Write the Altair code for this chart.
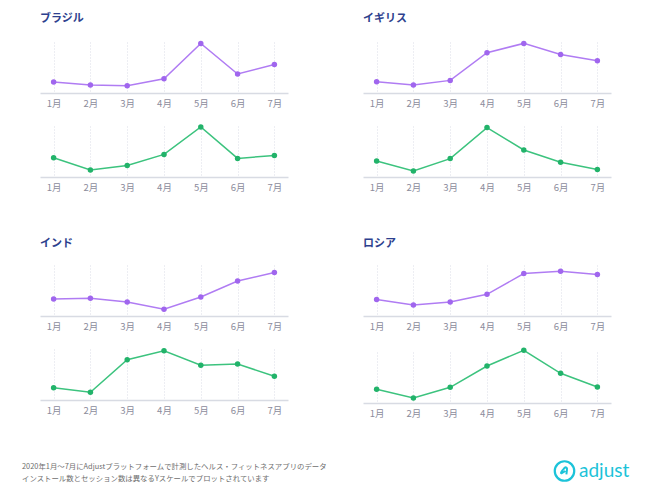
import altair as alt
import pandas as pd

months = ["1月", "2月", "3月", "4月", "5月", "6月", "7月"]
countries = ["ブラジル", "イギリス", "インド", "ロシア"]

# installs (purple) - relative scale
installs_brazil = [11, 8, 7.3, 14.3, 49.6, 19, 28.6]
installs_uk = [11.3, 8, 12.6, 40.3, 49.6, 38.6, 32.3]
installs_india = [17, 17.7, 14, 6.7, 19, 35, 43.4]
installs_russia = [16.4, 11, 14, 21.7, 42.4, 44.7, 41.4]

# sessions (green) - relative scale
sessions_brazil = [19.3, 7, 11.6, 22.6, 50, 18.6, 21.6]
sessions_uk = [16, 6, 18.4, 49.4, 27, 14.7, 7.4]
sessions_india = [12.3, 7.7, 40.3, 49.3, 34.7, 36, 23.7]
sessions_russia = [13.7, 5, 15.7, 37, 52.7, 29.7, 16]

footer_lines = [
    "2020年1月〜7月にAdjustプラットフォームで計測したヘルス・フィットネスアプリのデータ",
    "インストール数とセッション数は異なるYスケールでプロットされています",
]
logo_text = "adjust"

FONT = "Noto Sans CJK JP"
PURPLE_LINE = "#B07CF3"
PURPLE_PT = "#A066EE"
GREEN_LINE = "#3CC37E"
GREEN_PT = "#22B36A"
TITLE_COLOR = "#2D3F8E"
LOGO_COLOR = "#1CC3D9"

W, H = 248, 51


def panel(vals, line_color, pt_color, title=None):
    df = pd.DataFrame({"month": months, "value": vals})
    x = alt.X(
        "month:O",
        sort=months,
        scale=alt.Scale(type="point", padding=0.37),
        axis=alt.Axis(
            title=None,
            labelAngle=0,
            labelFont=FONT,
            labelFontSize=9.5,
            labelColor="#8C8C9C",
            labelPadding=5,
            ticks=False,
            domainColor="#D8DBE3",
            domainWidth=1.5,
            grid=True,
            gridColor="#DADDE6",
            gridDash=[1, 2],
            gridWidth=1,
        ),
    )
    y = alt.Y("value:Q", scale=alt.Scale(domain=[0, 51]), axis=None)
    base = alt.Chart(df)
    line = base.mark_line(color=line_color, strokeWidth=1.5).encode(x=x, y=y)
    pts = base.mark_circle(color=pt_color, size=30, opacity=1).encode(x=x, y=y)
    ch = alt.layer(line, pts).properties(width=W, height=H)
    if title:
        ch = ch.properties(
            title=alt.Title(
                title,
                anchor="start",
                font=FONT,
                fontSize=11,
                fontWeight="bold",
                color=TITLE_COLOR,
                offset=16,
            )
        )
    return ch


def country(name, inst, sess):
    return alt.vconcat(
        panel(inst, PURPLE_LINE, PURPLE_PT, name),
        panel(sess, GREEN_LINE, GREEN_PT),
        spacing=16,
    )


top = alt.hconcat(
    country(countries[0], installs_brazil, sessions_brazil),
    country(countries[1], installs_uk, sessions_uk),
    spacing=75,
)
bottom = alt.hconcat(
    country(countries[2], installs_india, sessions_india),
    country(countries[3], installs_russia, sessions_russia),
    spacing=75,
)

fdf = pd.DataFrame({"text": footer_lines, "row": [0, 1]})
fbase = alt.Chart(fdf)
foot1 = fbase.transform_filter("datum.row == 0").mark_text(
    align="left", baseline="middle", font=FONT, fontSize=7.4, color="#6E6E6E"
).encode(text="text:N", x=alt.value(-18), y=alt.value(19))
foot2 = fbase.transform_filter("datum.row == 1").mark_text(
    align="left", baseline="middle", font=FONT, fontSize=7.4, color="#6E6E6E"
).encode(text="text:N", x=alt.value(-18), y=alt.value(31))

ldf = pd.DataFrame({"t": [logo_text]})
lbase = alt.Chart(ldf)
logo_txt = lbase.mark_text(
    align="left", baseline="alphabetic", font="Lato", fontSize=19, color=LOGO_COLOR
).encode(text="t:N", x=alt.value(539), y=alt.value(29))
logo_ring = lbase.mark_point(
    shape="circle", filled=False, size=380, strokeWidth=2.2, color=LOGO_COLOR, opacity=1
).encode(x=alt.value(524.5), y=alt.value(23))
logo_glyph = lbase.mark_point(
    shape="M-0.6,0.45 C-0.65,0.05 -0.2,-0.25 0.05,-0.55 C0.2,-0.7 0.5,-0.55 0.42,-0.25 L0.32,0.55 M-0.6,0.45 L0.15,0.0",
    filled=False, size=140, strokeWidth=2, color=LOGO_COLOR, opacity=1
).encode(x=alt.value(524.5), y=alt.value(23))

footer = alt.layer(foot1, foot2, logo_ring, logo_glyph, logo_txt).properties(width=W * 2 + 75, height=40)

grid = alt.vconcat(top, bottom, spacing=46)

chart = alt.vconcat(grid, footer, spacing=30).properties(
    padding={"left": 14, "top": 5, "right": 5, "bottom": 5}
).configure_view(stroke=None)

chart.save("out.html", embed_options={"renderer": "svg", "actions": False})
